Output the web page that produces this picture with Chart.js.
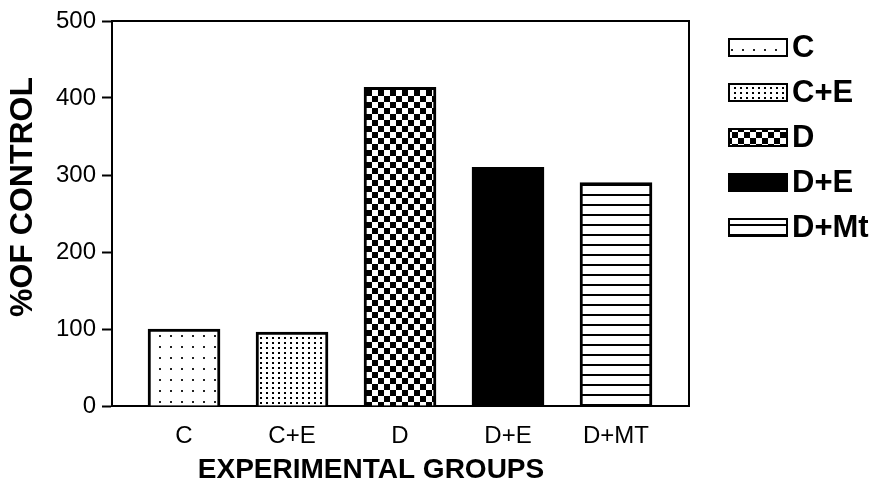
<!DOCTYPE html>
<html><head><meta charset="utf-8">
<script src="https://cdn.jsdelivr.net/npm/chart.js@4.4.1/dist/chart.umd.min.js"></script>
<style>html,body{margin:0;padding:0;background:#fff}#wrap{width:874px;height:487px;position:relative}</style>
</head><body><div id="wrap"><canvas id="c" width="874" height="487"></canvas></div>
<script>
// ---- data ----
const categories = ['C', 'C+E', 'D', 'D+E', 'D+MT'];
const values = [100, 96, 414, 310, 290];
const legendLabels = ['C', 'C+E', 'D', 'D+E', 'D+Mt'];
const yTicks = [0, 100, 200, 300, 400, 500];
const xTitle = 'EXPERIMENTAL GROUPS';
const yTitle = '%OF CONTROL';

const FONT = "'Liberation Sans', Arial, sans-serif";
const canvas = document.getElementById('c');
const mainCtx = canvas.getContext('2d');

function tile(w, h, draw) {
  const c = document.createElement('canvas');
  c.width = w; c.height = h;
  const g = c.getContext('2d');
  g.fillStyle = '#fff'; g.fillRect(0, 0, w, h);
  draw(g);
  return mainCtx.createPattern(c, 'repeat');
}
const fills = [
  tile(11, 11, g => { g.fillStyle = '#222'; g.fillRect(5, 5, 2, 2); }),
  tile(6, 5, g => { g.fillStyle = '#000'; g.fillRect(2, 2, 2, 2); }),
  tile(12, 12, g => { g.fillStyle = '#000'; g.fillRect(0, 0, 6, 6); g.fillRect(6, 6, 6, 6); }),
  '#000',
  tile(10, 10, g => { g.fillStyle = '#000'; g.fillRect(0, 4, 10, 2); })
];

const framePlugin = {
  id: 'frame',
  afterDraw(chart) {
    const { ctx, chartArea: a } = chart;
    ctx.save();
    ctx.strokeStyle = '#000';
    ctx.lineWidth = 2;
    ctx.beginPath();
    ctx.moveTo(a.left, a.top);
    ctx.lineTo(a.right, a.top);
    ctx.lineTo(a.right, a.bottom);
    ctx.stroke();
    // axis titles
    ctx.fillStyle = '#000';
    ctx.textAlign = 'center';
    ctx.textBaseline = 'middle';
    ctx.font = 'bold 28px ' + FONT;
    ctx.fillText(xTitle, 371, 470);
    ctx.translate(23, 197);
    ctx.rotate(-Math.PI / 2);
    ctx.font = 'bold 32px ' + FONT;
    ctx.fillText(yTitle, 0, 0);
    ctx.restore();
    // legend
    ctx.save();
    legendLabels.forEach((t, i) => {
      const cy = 47.5 + i * 45;
      ctx.fillStyle = fills[i];
      ctx.fillRect(729, cy - 8.5, 58, 17);
      ctx.strokeStyle = '#000';
      ctx.lineWidth = 2;
      ctx.strokeRect(729, cy - 8.5, 58, 17);
      ctx.fillStyle = '#000';
      ctx.font = 'bold 31px ' + FONT;
      ctx.textAlign = 'left';
      ctx.textBaseline = 'middle';
      ctx.fillText(t, 792, cy + 1);
    });
    ctx.restore();
  }
};

new Chart(canvas, {
  type: 'bar',
  data: {
    datasets: [{
      data: values.map((v, i) => ({ x: i, y: v })),
      backgroundColor: fills,
      borderColor: '#000',
      borderWidth: 3,
      barThickness: 72,
      grouped: false
    }]
  },
  options: {
    responsive: false,
    devicePixelRatio: 1,
    animation: false,
    layout: { padding: { left: 0, top: 21, right: 185, bottom: 0 } },
    plugins: { legend: { display: false }, tooltip: { enabled: false } },
    scales: {
      x: {
        type: 'linear',
        offset: false,
        min: -0.667,
        max: 4.676,
        afterBuildTicks: s => { s.ticks = categories.map((_, i) => ({ value: i })); },
        afterFit: s => { s.height = 81; },
        grid: { display: true, drawOnChartArea: false, drawTicks: false, offset: false },
        border: { display: true, color: '#000', width: 2 },
        ticks: {
          padding: 16,
          color: '#000',
          font: { family: FONT, size: 24 },
          callback: v => categories[v] ?? ''
        }
      },
      y: {
        min: 0,
        max: 500,
        afterBuildTicks: s => { s.ticks = yTicks.map(v => ({ value: v })); },
        afterFit: s => { s.width = 112; },
        grid: { display: true, drawOnChartArea: false, drawTicks: true, tickLength: 10, tickWidth: 2, tickColor: '#000' },
        border: { display: true, color: '#000', width: 2 },
        ticks: { padding: 6, color: '#000', font: { family: FONT, size: 24 } }
      }
    }
  },
  plugins: [framePlugin]
});
</script>
</body></html>
